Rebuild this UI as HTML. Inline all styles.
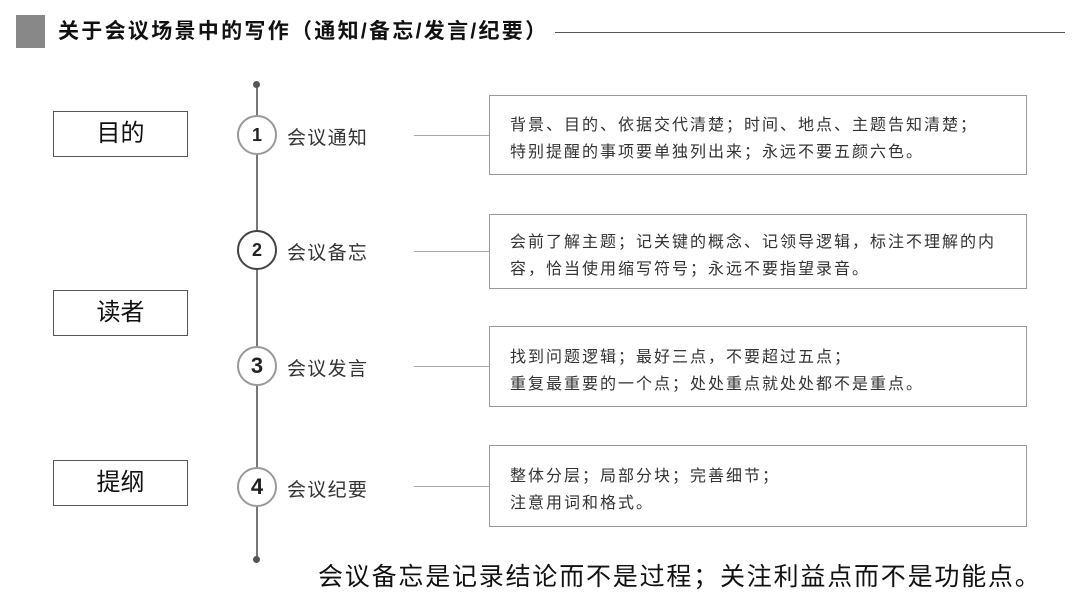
<!DOCTYPE html>
<html><head><meta charset="utf-8"><style>
body{margin:0;width:1080px;height:608px;background:#fff;position:relative;overflow:hidden;font-family:"Liberation Sans","Noto Sans CJK SC",sans-serif;color:#222}
.a{position:absolute}
.lb{position:absolute;border:1px solid #555;width:133px;height:44px;left:53px;font-size:24px;line-height:44px;text-align:center;color:#111}
.c{position:absolute;left:237px;width:36px;height:36px;border:2px solid #999;border-radius:50%;background:#fff;font-weight:bold;text-align:center;line-height:36px;color:#222}
.t{position:absolute;left:287px;font-size:19px;letter-spacing:1.3px;color:#333}
.h{position:absolute;left:414px;width:75px;height:1px;background:#aaa}
.b{position:absolute;left:489px;width:538px;border:1px solid #999;box-sizing:border-box;padding-left:20px;font-size:16px;letter-spacing:2px;line-height:27px;color:#333;white-space:nowrap}
</style></head><body>
<div class="a" style="left:16px;top:15px;width:29px;height:33px;background:#888"></div>
<div class="a" style="left:58px;top:17px;font-size:21px;letter-spacing:2.3px;font-weight:bold;color:#111;line-height:30px;white-space:nowrap">关于会议场景中的写作（通知/备忘/发言/纪要）</div>
<div class="a" style="left:555px;top:32px;width:510px;height:1px;background:#555"></div>

<div class="a" style="left:256px;top:84px;width:2px;height:476px;background:#777"></div>
<div class="a" style="left:253px;top:81px;width:7px;height:7px;border-radius:50%;background:#555"></div>
<div class="a" style="left:253px;top:556px;width:7px;height:7px;border-radius:50%;background:#555"></div>

<div class="lb" style="top:111px">目的</div>
<div class="lb" style="top:290px">读者</div>
<div class="lb" style="top:460px">提纲</div>

<div class="c" style="top:115px;font-size:18px">1</div>
<div class="c" style="top:230px;font-size:18px;border-color:#444">2</div>
<div class="c" style="top:346px;font-size:22px">3</div>
<div class="c" style="top:467px;font-size:22px">4</div>

<div class="t" style="top:123px">会议通知</div>
<div class="t" style="top:238px">会议备忘</div>
<div class="t" style="top:354px">会议发言</div>
<div class="t" style="top:475px">会议纪要</div>

<div class="h" style="top:135px"></div>
<div class="h" style="top:251px"></div>
<div class="h" style="top:366px"></div>
<div class="h" style="top:486px"></div>

<div class="b" style="top:95px;height:80px;padding-top:16px">背景、目的、依据交代清楚；时间、地点、主题告知清楚；<br>特别提醒的事项要单独列出来；永远不要五颜六色。</div>
<div class="b" style="top:214px;height:75px;padding-top:14px">会前了解主题；记关键的概念、记领导逻辑，标注不理解的内<br>容，恰当使用缩写符号；永远不要指望录音。</div>
<div class="b" style="top:326px;height:81px;padding-top:17px">找到问题逻辑；最好三点，不要超过五点；<br>重复最重要的一个点；处处重点就处处都不是重点。</div>
<div class="b" style="top:445px;height:82px;padding-top:17px">整体分层；局部分块；完善细节；<br>注意用词和格式。</div>

<div class="a" style="left:318px;top:560px;font-size:25px;letter-spacing:1.8px;color:#111;white-space:nowrap;line-height:34px">会议备忘是记录结论而不是过程；关注利益点而不是功能点。</div>
</body></html>
